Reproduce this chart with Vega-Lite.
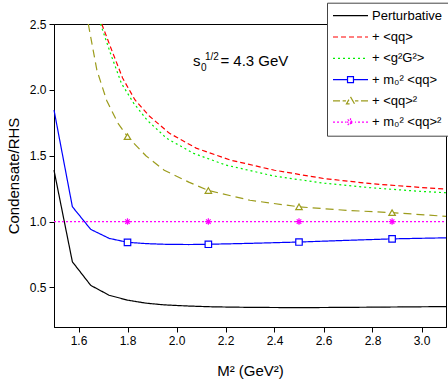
{
  "$schema": "https://vega.github.io/schema/vega-lite/v6.json",
  "width": 392,
  "height": 303,
  "autosize": {"type": "none"},
  "padding": {"left": 54, "top": 24, "right": 2, "bottom": 55},
  "background": "white",
  "config": {
    "font": "Liberation Sans",
    "view": {"stroke": "black", "strokeWidth": 1},
    "axis": {
      "grid": false,
      "domainColor": "black",
      "domainWidth": 1,
      "tickColor": "black",
      "tickWidth": 1,
      "tickSize": 5,
      "labelColor": "black",
      "titleColor": "black",
      "labelFont": "Liberation Sans",
      "titleFont": "Liberation Sans",
      "labelFontSize": 12,
      "titleFontSize": 15,
      "titleFontWeight": "normal",
      "labelOverlap": false,
      "labelFlush": false
    }
  },
  "datasets": {
    "curves": [
      {"series": "Perturbative", "m2": 1.5, "r": 1.39},
      {"series": "Perturbative", "m2": 1.575, "r": 0.695},
      {"series": "Perturbative", "m2": 1.65, "r": 0.516},
      {"series": "Perturbative", "m2": 1.725, "r": 0.441},
      {"series": "Perturbative", "m2": 1.8, "r": 0.404},
      {"series": "Perturbative", "m2": 1.875, "r": 0.381},
      {"series": "Perturbative", "m2": 1.95, "r": 0.368},
      {"series": "Perturbative", "m2": 2.05, "r": 0.359},
      {"series": "Perturbative", "m2": 2.15, "r": 0.353},
      {"series": "Perturbative", "m2": 2.3, "r": 0.349},
      {"series": "Perturbative", "m2": 2.5, "r": 0.347},
      {"series": "Perturbative", "m2": 2.7, "r": 0.349},
      {"series": "Perturbative", "m2": 2.9, "r": 0.352},
      {"series": "Perturbative", "m2": 3.1, "r": 0.355},
      {"series": "+ <qq>", "m2": 1.695, "r": 2.5},
      {"series": "+ <qq>", "m2": 1.74, "r": 2.28},
      {"series": "+ <qq>", "m2": 1.78, "r": 2.09},
      {"series": "+ <qq>", "m2": 1.83, "r": 1.925},
      {"series": "+ <qq>", "m2": 1.89, "r": 1.8},
      {"series": "+ <qq>", "m2": 1.97, "r": 1.672},
      {"series": "+ <qq>", "m2": 2.08, "r": 1.558},
      {"series": "+ <qq>", "m2": 2.22, "r": 1.467},
      {"series": "+ <qq>", "m2": 2.4, "r": 1.39},
      {"series": "+ <qq>", "m2": 2.6, "r": 1.327},
      {"series": "+ <qq>", "m2": 2.8, "r": 1.287},
      {"series": "+ <qq>", "m2": 3.0, "r": 1.259},
      {"series": "+ <qq>", "m2": 3.1, "r": 1.247},
      {"series": "+ <g²G²>", "m2": 1.69, "r": 2.5},
      {"series": "+ <g²G²>", "m2": 1.73, "r": 2.28},
      {"series": "+ <g²G²>", "m2": 1.775, "r": 2.05},
      {"series": "+ <g²G²>", "m2": 1.825, "r": 1.9},
      {"series": "+ <g²G²>", "m2": 1.88, "r": 1.77},
      {"series": "+ <g²G²>", "m2": 1.96, "r": 1.632},
      {"series": "+ <g²G²>", "m2": 2.07, "r": 1.518},
      {"series": "+ <g²G²>", "m2": 2.2, "r": 1.43},
      {"series": "+ <g²G²>", "m2": 2.4, "r": 1.345},
      {"series": "+ <g²G²>", "m2": 2.6, "r": 1.292},
      {"series": "+ <g²G²>", "m2": 2.8, "r": 1.256},
      {"series": "+ <g²G²>", "m2": 3.0, "r": 1.229},
      {"series": "+ <g²G²>", "m2": 3.1, "r": 1.219},
      {"series": "+ m₀² <qq>", "m2": 1.5, "r": 1.847},
      {"series": "+ m₀² <qq>", "m2": 1.575, "r": 1.113},
      {"series": "+ m₀² <qq>", "m2": 1.65, "r": 0.941},
      {"series": "+ m₀² <qq>", "m2": 1.725, "r": 0.873},
      {"series": "+ m₀² <qq>", "m2": 1.8, "r": 0.843},
      {"series": "+ m₀² <qq>", "m2": 1.875, "r": 0.833},
      {"series": "+ m₀² <qq>", "m2": 1.95, "r": 0.828},
      {"series": "+ m₀² <qq>", "m2": 2.05, "r": 0.826},
      {"series": "+ m₀² <qq>", "m2": 2.13, "r": 0.828},
      {"series": "+ m₀² <qq>", "m2": 2.3, "r": 0.835},
      {"series": "+ m₀² <qq>", "m2": 2.5, "r": 0.845},
      {"series": "+ m₀² <qq>", "m2": 2.7, "r": 0.858},
      {"series": "+ m₀² <qq>", "m2": 2.88, "r": 0.869},
      {"series": "+ m₀² <qq>", "m2": 3.1, "r": 0.877},
      {"series": "+ <qq>²", "m2": 1.64, "r": 2.5},
      {"series": "+ <qq>²", "m2": 1.675, "r": 2.15},
      {"series": "+ <qq>²", "m2": 1.715, "r": 1.92},
      {"series": "+ <qq>²", "m2": 1.76, "r": 1.75},
      {"series": "+ <qq>²", "m2": 1.8, "r": 1.645},
      {"series": "+ <qq>²", "m2": 1.875, "r": 1.5},
      {"series": "+ <qq>²", "m2": 1.95, "r": 1.39},
      {"series": "+ <qq>²", "m2": 2.05, "r": 1.3},
      {"series": "+ <qq>²", "m2": 2.13, "r": 1.236},
      {"series": "+ <qq>²", "m2": 2.3, "r": 1.162},
      {"series": "+ <qq>²", "m2": 2.5, "r": 1.112},
      {"series": "+ <qq>²", "m2": 2.7, "r": 1.085},
      {"series": "+ <qq>²", "m2": 2.88, "r": 1.068},
      {"series": "+ <qq>²", "m2": 3.1, "r": 1.04},
      {"series": "+ m₀² <qq>²", "m2": 1.5, "r": 1.0},
      {"series": "+ m₀² <qq>²", "m2": 1.8, "r": 1.0},
      {"series": "+ m₀² <qq>²", "m2": 2.13, "r": 1.0},
      {"series": "+ m₀² <qq>²", "m2": 2.5, "r": 1.0},
      {"series": "+ m₀² <qq>²", "m2": 2.88, "r": 1.0},
      {"series": "+ m₀² <qq>²", "m2": 3.1, "r": 1.0}
    ]
  },
  "layer": [
    {
      "data": {"name": "curves"},
      "mark": {"type": "line", "strokeWidth": 1.2},
      "encoding": {
        "x": {
          "field": "m2",
          "type": "quantitative",
          "scale": {"domain": [1.5, 3.1], "nice": false, "zero": false},
          "axis": {
            "title": "M² (GeV²)",
            "values": [1.6, 1.8, 2.0, 2.2, 2.4, 2.6, 2.8, 3.0],
            "format": ".1f",
            "labelPadding": 3,
            "titlePadding": 17
          }
        },
        "y": {
          "field": "r",
          "type": "quantitative",
          "scale": {"domain": [0.2, 2.5], "nice": false, "zero": false},
          "axis": {
            "title": "Condensate/RHS",
            "values": [0.5, 1.0, 1.5, 2.0, 2.5],
            "format": ".1f",
            "labelPadding": 3,
            "titlePadding": 8
          }
        },
        "color": {
          "field": "series",
          "type": "nominal",
          "scale": {
            "domain": ["Perturbative", "+ <qq>", "+ <g²G²>", "+ m₀² <qq>", "+ <qq>²", "+ m₀² <qq>²"],
            "range": ["#000000", "#ff0000", "#00ee00", "#0000ff", "#9c9c1c", "#ff00ff"]
          },
          "legend": {
            "orient": "none",
            "legendX": 273,
            "legendY": -21.3,
            "title": null,
            "symbolType": "stroke",
            "symbolSize": 1225,
            "symbolStrokeWidth": 1.2,
            "clipHeight": 16,
            "rowPadding": 5.3,
            "padding": 5,
            "labelOffset": 3,
            "labelFont": "Liberation Sans",
            "labelFontSize": 13,
            "labelColor": "black",
            "labelLimit": 0,
            "strokeColor": "#444444",
            "fillColor": "white",
            "encode": {
              "symbols": {
                "update": {
                  "shape": {"signal": "datum.value === '+ m₀² <qq>' ? 'M-1,0H-0.17M0.17,0H1M-0.17,-0.17H0.17V0.17H-0.17Z' : datum.value === '+ <qq>²' ? 'M-1,0H-0.6M-0.45,0H-0.26M0.26,0H0.45M0.6,0H1M0,-0.23L0.23,0.17L-0.23,0.17Z' : datum.value === '+ m₀² <qq>²' ? 'M-1,0H-0.886M-0.771,0H-0.657M-0.543,0H-0.429M-0.314,0H-0.26M0.26,0H0.314M0.429,0H0.543M0.657,0H0.771M0.886,0H1M-0.23,0H0.23M0,-0.23V0.23M-0.16,-0.16L0.16,0.16M-0.16,0.16L0.16,-0.16' : 'stroke'"},
                  "strokeDash": {"signal": "datum.value === '+ <qq>' ? [5, 3] : datum.value === '+ <g²G²>' ? [2, 3] : [1, 0]"},
                  "fill": {"value": "white"}
                }
              }
            }
          }
        },
        "strokeDash": {
          "field": "series",
          "type": "nominal",
          "scale": {
            "domain": ["Perturbative", "+ <qq>", "+ <g²G²>", "+ m₀² <qq>", "+ <qq>²", "+ m₀² <qq>²"],
            "range": [[1, 0], [5, 3], [2, 3], [1, 0], [8, 5], [2, 2]]
          },
          "legend": null
        }
      }
    },
    {
      "data": {"name": "curves"},
      "transform": [
        {"filter": {"field": "m2", "oneOf": [1.8, 2.13, 2.5, 2.88]}},
        {"filter": {"field": "series", "oneOf": ["+ m₀² <qq>", "+ <qq>²", "+ m₀² <qq>²"]}}
      ],
      "mark": {"type": "point", "filled": false, "fill": "white", "strokeWidth": 1.2, "size": 42, "opacity": 1},
      "encoding": {
        "x": {"field": "m2", "type": "quantitative"},
        "y": {"field": "r", "type": "quantitative"},
        "color": {"field": "series", "type": "nominal", "legend": null},
        "shape": {
          "field": "series",
          "type": "nominal",
          "scale": {
            "domain": ["+ m₀² <qq>", "+ <qq>²", "+ m₀² <qq>²"],
            "range": ["square", "triangle-up", "M-1,0L1,0M0,-1L0,1M-0.7,-0.7L0.7,0.7M-0.7,0.7L0.7,-0.7"]
          },
          "legend": null
        }
      }
    },
    {
      "data": {"values": [{"m2": 2.067, "r": 2.183}]},
      "mark": {"type": "text", "font": "Liberation Sans", "fontSize": 15, "align": "left", "baseline": "alphabetic", "color": "black"},
      "encoding": {"x": {"field": "m2", "type": "quantitative"}, "y": {"field": "r", "type": "quantitative"}, "text": {"value": "s"}}
    },
    {
      "data": {"values": [{"m2": 2.067, "r": 2.183}]},
      "mark": {"type": "text", "font": "Liberation Sans", "fontSize": 10, "align": "left", "baseline": "alphabetic", "dx": 8, "dy": 5, "color": "black"},
      "encoding": {"x": {"field": "m2", "type": "quantitative"}, "y": {"field": "r", "type": "quantitative"}, "text": {"value": "0"}}
    },
    {
      "data": {"values": [{"m2": 2.067, "r": 2.183}]},
      "mark": {"type": "text", "font": "Liberation Sans", "fontSize": 10, "align": "left", "baseline": "alphabetic", "dx": 12, "dy": -6, "color": "black"},
      "encoding": {"x": {"field": "m2", "type": "quantitative"}, "y": {"field": "r", "type": "quantitative"}, "text": {"value": "1/2"}}
    },
    {
      "data": {"values": [{"m2": 2.067, "r": 2.183}]},
      "mark": {"type": "text", "font": "Liberation Sans", "fontSize": 15, "align": "left", "baseline": "alphabetic", "dx": 27.5, "color": "black"},
      "encoding": {"x": {"field": "m2", "type": "quantitative"}, "y": {"field": "r", "type": "quantitative"}, "text": {"value": "= 4.3 GeV"}}
    }
  ]
}
